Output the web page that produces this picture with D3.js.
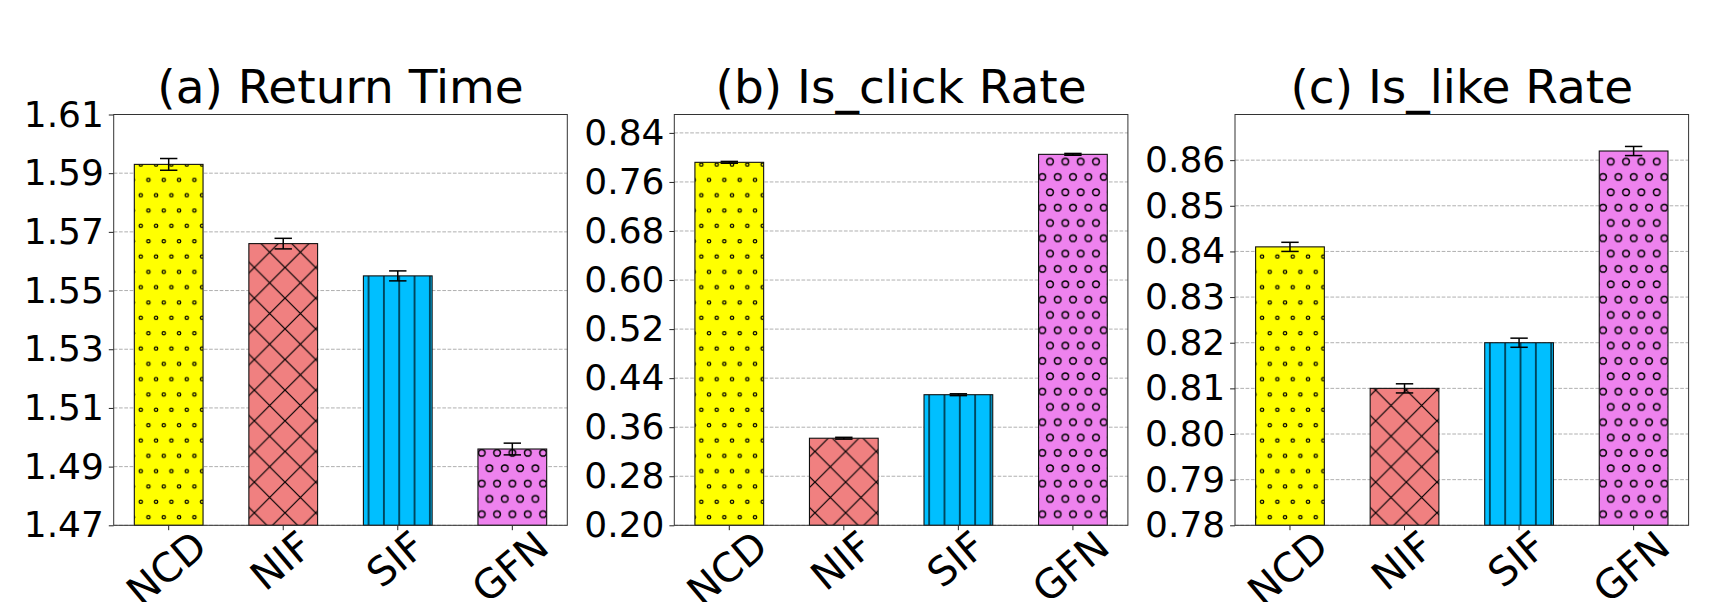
<!DOCTYPE html>
<html>
<head>
<meta charset="utf-8">
<script src="https://cdn.jsdelivr.net/npm/d3@7"></script>
<style>
  body { margin: 0; background: #fff; }
  svg { display: block; font-family: "DejaVu Sans", sans-serif; }
</style>
</head>
<body>
<svg id="chart" width="1715" height="602"></svg>
<script>
// ---- data ----
const categories = ["NCD", "NIF", "SIF", "GFN"];

const returnTime    = [1.593, 1.566, 1.555, 1.496];
const returnTimeErr = [0.002, 0.0018, 0.0017, 0.002];

const clickRate    = [0.792, 0.342, 0.413, 0.805];
const clickRateErr = [0.0015, 0.0015, 0.0015, 0.0015];

const likeRate    = [0.841, 0.810, 0.820, 0.862];
const likeRateErr = [0.001, 0.001, 0.001, 0.001];

const returnTicks = [1.47, 1.49, 1.51, 1.53, 1.55, 1.57, 1.59, 1.61];
const clickTicks  = [0.20, 0.28, 0.36, 0.44, 0.52, 0.60, 0.68, 0.76, 0.84];
const likeTicks   = [0.78, 0.79, 0.80, 0.81, 0.82, 0.83, 0.84, 0.85, 0.86];

const returnLimits = [1.47, 1.61];
const clickLimits  = [0.20, 0.87];
const likeLimits   = [0.78, 0.87];

const titles = ["(a) Return Time", "(b) Is_click Rate", "(c) Is_like Rate"];

// ---- layout ----
const svg = d3.select("#chart");
const panelLeft = [113.7, 674.3, 1235];
const plotTop = 114.5, plotW = 453.6, plotH = 410.8;
const tickLen = 4.9, tickPad = 4.9, fontSize = 36, labelSize = 40, rot = 40;
const step = 15.33; // hatch spacing

const fills = ["#ffff00", "#f08080", "#00bfff", "#ee82ee"];
const hatchIds = ["hatch-o", "hatch-x", "hatch-v", "hatch-O"];

// ---- hatch patterns ----
const defs = svg.append("defs");

function dotPattern(id, color, r, sw, ax, ay) {
    const p = defs.append("pattern")
        .attr("id", id)
        .attr("patternUnits", "userSpaceOnUse")
        .attr("width", step).attr("height", step * 2)
        .attr("x", ax - step / 2).attr("y", ay - step / 2);
    p.append("rect").attr("width", step).attr("height", step * 2).attr("fill", color);
    [[step / 2, step / 2], [0, step * 1.5], [step, step * 1.5]].forEach(c => {
        p.append("circle").attr("cx", c[0]).attr("cy", c[1]).attr("r", r)
            .attr("fill", "none").attr("stroke", "#000").attr("stroke-width", sw);
    });
}
dotPattern("hatch-o", fills[0], 1.7, 1.2, 149.7, 172.7);
dotPattern("hatch-O", fills[3], 3.3, 1.5, 490.7, 461);

// crossed diagonals, 2*step between parallel lines
const cw = step * 2;
const px = defs.append("pattern")
    .attr("id", "hatch-x")
    .attr("patternUnits", "userSpaceOnUse")
    .attr("width", cw).attr("height", cw)
    .attr("x", 263.3).attr("y", 245);
px.append("rect").attr("width", cw).attr("height", cw).attr("fill", fills[1]);
px.append("path")
    .attr("d", `M0,0L${cw},${cw}M-2,${cw - 2}L2,${cw + 2}M${cw - 2},-2L${cw + 2},2` +
               `M${cw},0L0,${cw}M-2,2L2,-2M${cw - 2},${cw + 2}L${cw + 2},${cw - 2}`)
    .attr("stroke", "#000").attr("stroke-width", 1.2).attr("fill", "none");

// vertical lines
const pv = defs.append("pattern")
    .attr("id", "hatch-v")
    .attr("patternUnits", "userSpaceOnUse")
    .attr("width", step).attr("height", 20)
    .attr("x", 377.5 - step / 2).attr("y", 0);
pv.append("rect").attr("width", step).attr("height", 20).attr("fill", fills[2]);
pv.append("line").attr("x1", step / 2).attr("x2", step / 2).attr("y1", 0).attr("y2", 20)
    .attr("stroke", "#000").attr("stroke-width", 1.2);

// ---- panels ----
const panels = [
    { values: returnTime, errs: returnTimeErr, ticks: returnTicks, limits: returnLimits },
    { values: clickRate,  errs: clickRateErr,  ticks: clickTicks,  limits: clickLimits },
    { values: likeRate,   errs: likeRateErr,   ticks: likeTicks,   limits: likeLimits }
];

panels.forEach((p, i) => {
    const g = svg.append("g").attr("transform", `translate(${panelLeft[i]},${plotTop})`);

    const x = d3.scaleBand()
        .domain(categories)
        .range([0, plotW])
        .paddingInner(0.4)
        .paddingOuter(0.18);
    const y = d3.scaleLinear().domain(p.limits).range([plotH, 0]);

    // grid
    g.append("g").selectAll("line")
        .data(p.ticks)
        .join("line")
        .attr("x1", 0).attr("x2", plotW)
        .attr("y1", d => y(d)).attr("y2", d => y(d))
        .attr("stroke", "#b0b0b0")
        .attr("stroke-width", 1)
        .attr("stroke-dasharray", "3.7,1.6");

    const data = categories.map((c, k) => ({ cat: c, v: p.values[k], e: p.errs[k], k: k }));

    // bars
    g.append("g").selectAll("rect")
        .data(data)
        .join("rect")
        .attr("x", d => x(d.cat))
        .attr("width", x.bandwidth())
        .attr("y", d => y(d.v))
        .attr("height", d => plotH - y(d.v))
        .attr("fill", d => `url(#${hatchIds[d.k]})`)
        .attr("stroke", "#111")
        .attr("stroke-width", 1.1);

    // error bars
    const eb = g.append("g").selectAll("g")
        .data(data)
        .join("g")
        .attr("transform", d => `translate(${x(d.cat) + x.bandwidth() / 2},0)`)
        .attr("stroke", "#000")
        .attr("stroke-width", 1.5);
    eb.append("line").attr("y1", d => y(d.v - d.e)).attr("y2", d => y(d.v + d.e));
    eb.append("line").attr("x1", -8.7).attr("x2", 8.7)
        .attr("y1", d => y(d.v + d.e)).attr("y2", d => y(d.v + d.e));
    eb.append("line").attr("x1", -8.7).attr("x2", 8.7)
        .attr("y1", d => y(d.v - d.e)).attr("y2", d => y(d.v - d.e));

    // y axis
    const ya = g.append("g")
        .call(d3.axisLeft(y).tickValues(p.ticks).tickFormat(d3.format(".2f"))
            .tickSize(tickLen).tickPadding(tickPad));
    ya.select(".domain").remove();
    ya.selectAll("text").attr("font-size", fontSize).attr("fill", "#000")
        .attr("font-family", "DejaVu Sans");
    ya.selectAll("line").attr("stroke", "#222");

    // x axis, labels rotated like matplotlib (bbox centred under the tick)
    const xa = g.append("g")
        .attr("transform", `translate(0,${plotH})`)
        .call(d3.axisBottom(x).tickSize(tickLen).tickPadding(tickPad));
    xa.select(".domain").remove();
    xa.selectAll("line").attr("stroke", "#222");
    const th = rot * Math.PI / 180;
    xa.selectAll("text")
        .attr("font-size", labelSize)
        .attr("font-family", "DejaVu Sans")
        .attr("fill", "#000")
        .attr("text-anchor", "middle")
        .attr("y", 0)
        .attr("dy", "0.262em")
        .each(function () {
            const w = this.getComputedTextLength();
            const h = 1.0 * labelSize;
            const cy = tickLen + (w * Math.sin(th) + h * Math.cos(th)) / 2 - 3;
            d3.select(this).attr("transform", `translate(0,${cy}) rotate(${-rot})`);
        });

    // frame
    g.append("rect")
        .attr("width", plotW).attr("height", plotH)
        .attr("fill", "none").attr("stroke", "#333").attr("stroke-width", 1);

    // title
    g.append("text")
        .attr("x", plotW / 2)
        .attr("y", -11.5)
        .attr("text-anchor", "middle")
        .attr("font-size", 47)
        .attr("fill", "#000")
        .text(titles[i]);
});
</script>
</body>
</html>
